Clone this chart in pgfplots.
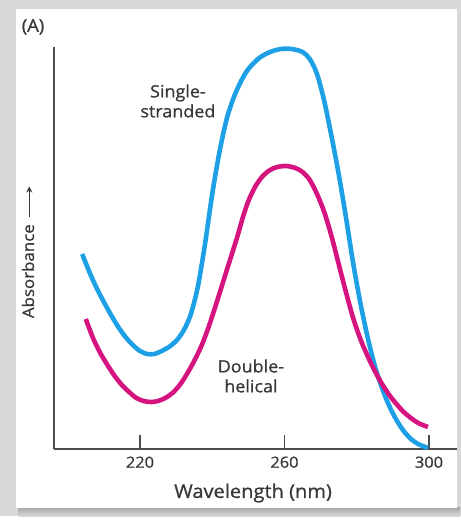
\documentclass[border=0pt]{standalone}
\usepackage{pgfplots}
\pgfplotsset{compat=1.18}
\usepackage{fontspec}
\setmainfont{Open Sans}[FakeStretch=1.06, FakeBold=0.8]
\usetikzlibrary{arrows.meta}
\definecolor{ssblue}{RGB}{30,160,230}
\definecolor{dhpink}{RGB}{214,20,128}
\definecolor{txt}{RGB}{55,55,55}
\definecolor{framegray}{RGB}{216,216,216}

\begin{document}
\begin{tikzpicture}
% frame round the panel
\fill[white] (0,0) rectangle (461bp,-522bp);
\fill[framegray] (0,0) rectangle (461bp,-516bp);
\shade[top color=gray!70, bottom color=framegray] (18bp,-507bp) rectangle (460bp,-516bp);
\fill[white] (16bp,-9bp) rectangle (457bp,-508bp);

\begin{axis}[
    at={(54bp,-449bp)}, anchor=south west,
    scale only axis,
    width=403bp, height=402bp,
    xmin=196.2, xmax=307.75,
    ymin=0, ymax=402,
    axis x line=bottom,
    axis y line=left,
    axis line style={-, line width=1.5pt, color=txt!90},
    xtick={220,260,300},
    ytick=\empty,
    tick align=inside,
    major tick length=14bp,
    tick style={line width=1.5pt, color=txt!90},
    xticklabel style={font=\fontsize{15.5}{17}\selectfont, text=txt, yshift=-4bp},
    /pgf/number format/assume math mode=true,
    xlabel={Wavelength (nm)},
    xlabel style={at={(axis description cs:0.494,0)}, anchor=center, yshift=-44bp,
        font=\fontsize{19}{21}\selectfont, text=txt},
    ylabel={Absorbance\, \tikz[baseline=-0.55ex]\draw[-{Stealth[length=6pt,width=6pt]}, line width=1.3pt, txt] (0,0) -- (30bp,0);},
    ylabel style={at={(axis description cs:-0.0645,0.49)}, anchor=center,
        font=\fontsize{16}{18}\selectfont, text=txt},
    clip=false,
]
\addplot[ssblue, line width=4.6pt, smooth] coordinates {
(204.0,195) (206.0,177) (208.0,161) (210.0,147) (212.0,134) (214.0,122)
(216.0,112) (218.0,104) (220.0,98) (222.0,95) (224.0,95) (226.0,98)
(228.0,102) (230.0,108) (232.0,118) (234.0,134) (236.0,162) (238.0,205)
(240.0,255) (242.0,297) (244.0,330) (246.0,352) (248.0,368) (250.0,380)
(253.0,391) (256.0,397) (259.0,400) (262.0,400) (265.0,397) (267.0,390)
(269.0,375) (271.0,348) (273.0,313) (275.0,275) (277.0,232) (279.0,186)
(281.0,146) (283.0,112) (285.0,83) (287.0,61) (289.0,43) (291.0,29)
(293.0,18) (295.0,10) (297.0,5) (299.7,1)
};
\addplot[dhpink, line width=4.6pt, smooth] coordinates {
(205.0,130) (207.0,111) (209.0,96) (211.0,84) (213.0,73) (215.0,64)
(217.0,57) (219.0,51) (221.0,48) (223.0,47) (225.0,48) (227.0,51)
(229.0,56) (231.0,64) (233.0,75) (235.0,88) (237.0,103) (239.0,122)
(241.0,144) (243.0,167) (245.0,190) (247.0,213) (248.5,232) (250.0,248)
(252.0,263) (254.0,273) (256.0,279) (258.0,282) (260.5,283) (263.0,281)
(265.0,277) (267.0,269) (269.0,255) (271.0,237) (273.0,213) (275.0,185)
(277.0,157) (279.0,131) (281.0,110) (283.0,93) (285.0,78) (287.0,65)
(289.0,54) (291.0,45) (293.0,37) (295.0,31) (297.0,26) (299.7,22)
};
\node[align=center, text=txt, font=\fontsize{17}{20}\selectfont] at (axis cs:230.5,348) {Single-\\stranded};
\node[align=center, text=txt, font=\fontsize{17}{20}\selectfont] at (axis cs:250.7,73) {Double-\\helical};
\node[text=txt, font=\fontsize{17.5}{19}\selectfont] at (rel axis cs:-0.052,1.05) {(A)};
\end{axis}
\pgfresetboundingbox
\path (0,0) rectangle (461bp,-522bp);
\end{tikzpicture}
\end{document}
